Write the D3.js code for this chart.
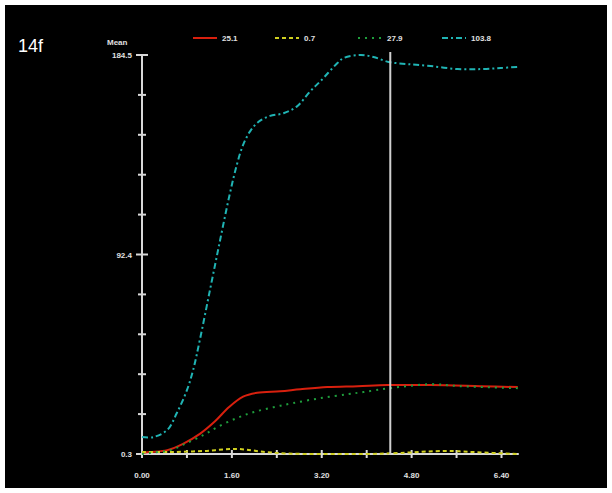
<!DOCTYPE html>
<html><head><meta charset="utf-8">
<script src="https://cdn.jsdelivr.net/npm/d3@7"></script>
<style>html,body{margin:0;padding:0;background:#fff;}svg{display:block;}</style>
</head><body>
<svg id="c" width="612" height="493"></svg>
<script>
const title = "14f";
const yLabel = "Mean";
const xTicks = [0.00, 1.60, 3.20, 4.80, 6.40];
const xMinorTicks = [0.80, 2.40, 4.00, 5.60];
const yTickLabels = [0.3, 92.4, 184.5];
const cursorX = 4.42;
const seriesNames = ["25.1", "0.7", "27.9", "103.8"];
const seriesColors = ["#d8200e", "#d0d020", "#1e9e3c", "#20b4b4"];

const redX = [0, 0.14, 0.45, 0.73, 1.03, 1.30, 1.55, 1.80, 2.05, 2.46, 2.82, 3.30, 3.84, 4.37, 5.14, 6.03, 6.69];
const redY = [0.8, 1.2, 2.1, 5.0, 9.6, 15.4, 22.0, 26.8, 28.6, 29.3, 30.2, 31.2, 31.6, 32.1, 32.1, 31.6, 31.2];

const yellowX = [0, 0.5, 1.1, 1.7, 2.2, 2.6, 3.2, 4.0, 4.6, 5.4, 5.9, 6.69];
const yellowY = [1.2, 1.2, 1.7, 2.6, 1.2, 0.5, 0.3, 0.3, 0.8, 1.7, 1.2, 0.3];

const greenX = [0, 0.14, 0.50, 0.80, 1.09, 1.34, 1.69, 1.98, 2.34, 2.69, 3.18, 3.66, 3.94, 4.42, 5.14, 5.67, 6.69];
const greenY = [0.3, 0.8, 2.1, 5.4, 9.0, 12.7, 16.9, 19.6, 21.9, 23.8, 26.1, 27.9, 28.9, 30.7, 32.5, 31.6, 30.7];

const cyanX = [0, 0.20, 0.45, 0.62, 0.80, 0.91, 1.03, 1.21, 1.39, 1.56, 1.69, 1.80, 1.93, 2.07, 2.28, 2.52, 2.76, 3.00, 3.18, 3.48, 3.59, 3.89, 4.12, 4.39, 4.73, 5.14, 5.62, 6.03, 6.39, 6.69];
const cyanY = [8.1, 8.1, 11.4, 19.2, 29.8, 39.0, 53.0, 76.0, 99.0, 120.0, 134.0, 143.0, 149.5, 153.6, 156.4, 157.6, 160.8, 167.9, 172.5, 180.8, 183.1, 184.5, 183.6, 181.3, 180.3, 179.4, 178.0, 178.0, 178.5, 179.0];

const svg = d3.select("#c");
svg.append("rect").attr("x",5).attr("y",5).attr("width",602).attr("height",483).attr("fill","#000");

const x = d3.scaleLinear().domain([0, 6.4]).range([142, 501.5]);
const y = d3.scaleLinear().domain([0.3, 184.5]).range([454, 55]);
const xEnd = 6.69;

svg.append("text").attr("x",18).attr("y",52).attr("fill","#fff")
  .attr("font-family","Liberation Sans, Arial, sans-serif").attr("font-size",18).text(title);

const axisCol = "#d8d8d8";
const tf = "Liberation Sans, Arial, sans-serif";

// Y axis line
svg.append("line").attr("x1",x(0)).attr("x2",x(0)).attr("y1",y(184.5)).attr("y2",y(0.3))
  .attr("stroke",axisCol).attr("stroke-width",2);
const yTicksAll = d3.range(0, 11).map(i => 0.3 + i * (184.5 - 0.3) / 10);
yTicksAll.forEach((v, i) => {
  const major = (i % 5 === 0);
  const w = major ? 6 : 4;
  svg.append("line").attr("x1",x(0)-w).attr("x2",x(0)+w).attr("y1",y(v)).attr("y2",y(v))
    .attr("stroke",axisCol).attr("stroke-width",2);
});
yTickLabels.forEach(v => {
  svg.append("text").attr("x",x(0)-10).attr("y",y(v)+3).attr("text-anchor","end")
    .attr("fill","#e0e0e0").attr("font-family",tf).attr("font-size",8).attr("font-weight","bold").text(v.toFixed(1));
});
svg.append("text").attr("x",107).attr("y",45).attr("fill","#e0e0e0")
  .attr("font-family",tf).attr("font-size",8).attr("font-weight","bold").text(yLabel);

// X axis
svg.append("line").attr("x1",x(0)).attr("x2",x(xEnd)+1).attr("y1",y(0.3)).attr("y2",y(0.3))
  .attr("stroke",axisCol).attr("stroke-width",2);
xTicks.concat(xMinorTicks).forEach(v => {
  svg.append("line").attr("x1",x(v)).attr("x2",x(v)).attr("y1",y(0.3)-4).attr("y2",y(0.3)+4)
    .attr("stroke",axisCol).attr("stroke-width",2);
});
xTicks.forEach(v => {
  svg.append("text").attr("x",x(v)).attr("y",478).attr("text-anchor","middle")
    .attr("fill","#e0e0e0").attr("font-family",tf).attr("font-size",8).attr("font-weight","bold").text(v.toFixed(2));
});

// Series
const series = [
  {xs: redX, ys: redY, dash: null},
  {xs: yellowX, ys: yellowY, dash: "4,3"},
  {xs: greenX, ys: greenY, dash: "2,5"},
  {xs: cyanX, ys: cyanY, dash: "6,3,2,3"}
];
const line = d3.line().x(d => x(d[0])).y(d => y(Math.max(0.3, d[1]))).curve(d3.curveCatmullRom.alpha(0.5));
series.forEach((s, i) => {
  const pts = s.xs.map((v, j) => [v, s.ys[j]]);
  const p = svg.append("path").attr("d", line(pts)).attr("fill","none")
    .attr("stroke", seriesColors[i]).attr("stroke-width", 2);
  if (s.dash) p.attr("stroke-dasharray", s.dash);
});

// Cursor
svg.append("line").attr("x1",x(cursorX)).attr("x2",x(cursorX)).attr("y1",52).attr("y2",y(0.3)+1)
  .attr("stroke","#d0d0d0").attr("stroke-width",2);

// Legend
const legX = [193, 275, 358, 442];
seriesNames.forEach((n, i) => {
  const l = svg.append("line").attr("x1",legX[i]).attr("x2",legX[i]+24).attr("y1",38).attr("y2",38)
    .attr("stroke",seriesColors[i]).attr("stroke-width",2);
  if (series[i].dash) l.attr("stroke-dasharray", series[i].dash);
  svg.append("text").attr("x",legX[i]+29).attr("y",41).attr("fill","#e0e0e0")
    .attr("font-family",tf).attr("font-size",8).attr("font-weight","bold").text(n);
});
</script>
</body></html>
